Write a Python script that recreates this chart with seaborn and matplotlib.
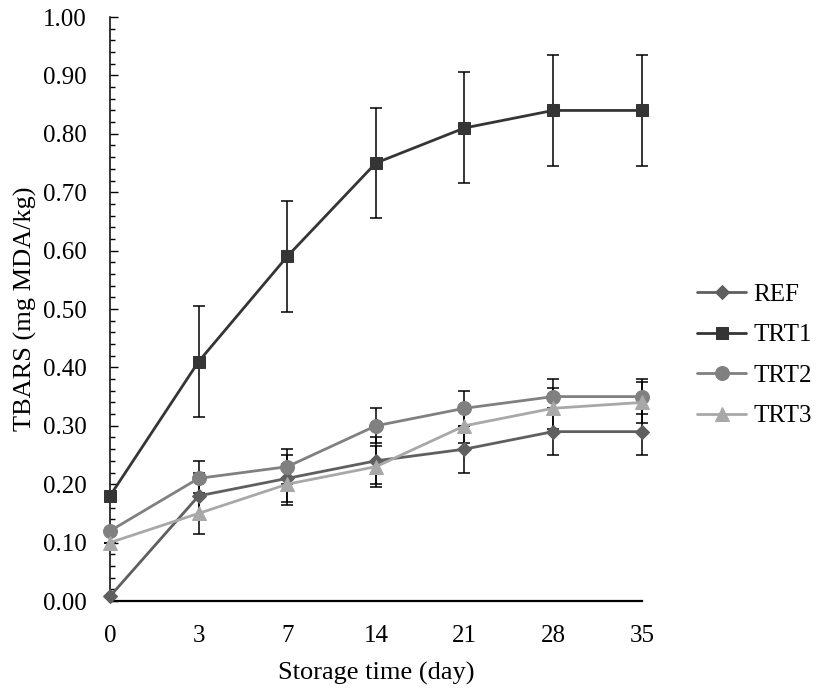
import matplotlib
matplotlib.use("Agg")
import matplotlib.pyplot as plt
import seaborn as sns
import pandas as pd
import numpy as np
from matplotlib.ticker import MultipleLocator, FormatStrFormatter

days = ["0", "3", "7", "14", "21", "28", "35"]
series = ["REF", "TRT1", "TRT2", "TRT3"]
ref = [0.008, 0.18, 0.21, 0.24, 0.26, 0.29, 0.29]
trt1 = [0.18, 0.41, 0.59, 0.75, 0.81, 0.84, 0.84]
trt2 = [0.12, 0.21, 0.23, 0.30, 0.33, 0.35, 0.35]
trt3 = [0.10, 0.15, 0.20, 0.23, 0.30, 0.33, 0.34]
ref_err = [0.0, 0.04, 0.04, 0.04, 0.04, 0.04, 0.04]
trt1_err = [0.0, 0.095, 0.095, 0.095, 0.095, 0.095, 0.095]
trt2_err = [0.0, 0.03, 0.03, 0.03, 0.03, 0.03, 0.03]
trt3_err = [0.0, 0.035, 0.035, 0.035, 0.03, 0.035, 0.035]

values = {"REF": ref, "TRT1": trt1, "TRT2": trt2, "TRT3": trt3}
errors = {"REF": ref_err, "TRT1": trt1_err, "TRT2": trt2_err, "TRT3": trt3_err}

rows = []
for s in series:
    for d, v, e in zip(days, values[s], errors[s]):
        rows.append({"day": d, "value": v, "err": e, "series": s})
df = pd.DataFrame(rows)

sns.set_theme(style="white")
plt.rcParams["font.family"] = ["Liberation Serif", "DejaVu Serif"]

colors = {"REF": "#5f5f5f", "TRT1": "#353535", "TRT2": "#808080", "TRT3": "#a8a8a8"}
markers = {"REF": "D", "TRT1": "s", "TRT2": "o", "TRT3": "^"}
msizes = {"REF": 7.5, "TRT1": 8.5, "TRT2": 10, "TRT3": 9.5}

fig = plt.figure(figsize=(8.27, 6.94), dpi=100)
ax = fig.add_axes([0.133, 0.134, 0.776 - 0.133, 0.9755 - 0.134])

for s in series:
    sub = df[df["series"] == s]
    eb = ax.errorbar(sub["day"], sub["value"], yerr=sub["err"], fmt="none",
                     ecolor="black", elinewidth=1.1, capsize=4.3, capthick=1.1, zorder=1)
    for art in eb.lines[1] + eb.lines[2]:
        art.set_clip_on(False)
    for c in eb.lines[2]:
        c.set_clip_on(False)

for s in series:
    sub = df[df["series"] == s]
    sns.lineplot(data=sub, x="day", y="value", ax=ax, color=colors[s],
                 marker=markers[s], markersize=msizes[s], markeredgecolor=colors[s],
                 linewidth=2.0, label=s, zorder=3, sort=False, clip_on=False)

ax.set_xlim(0, 6)
ax.set_ylim(0, 1.0)
ax.yaxis.set_major_locator(MultipleLocator(0.1))
ax.yaxis.set_minor_locator(MultipleLocator(0.02))
ax.yaxis.set_major_formatter(FormatStrFormatter("%.2f"))
ax.tick_params(axis="y", which="major", direction="in", length=6, width=1,
               color="black", labelsize=18, left=True, pad=17, labelcolor="black")
ax.tick_params(axis="y", which="minor", direction="in", length=3.8, width=1,
               color="black", left=True)
ax.tick_params(axis="x", which="both", length=0, labelsize=18, pad=17, labelcolor="black")

for sp in ["top", "right"]:
    ax.spines[sp].set_visible(False)
ax.spines["left"].set_color("black")
ax.spines["left"].set_linewidth(1.1)
ax.spines["bottom"].set_color("black")
ax.spines["bottom"].set_linewidth(1.6)

ax.set_xlabel("Storage time (day)", fontsize=19, labelpad=11, color="black")
ax.set_ylabel("TBARS (mg MDA/kg)", fontsize=19, labelpad=4, color="black")
ax.grid(False)

leg = ax.legend(loc="center left", bbox_to_anchor=(0.843, 0.488), bbox_transform=fig.transFigure,
                frameon=False, fontsize=18, handlelength=1.95, labelspacing=0.72,
                handletextpad=0.3, borderpad=0, borderaxespad=0)
for t in leg.get_texts():
    t.set_color("black")

fig.savefig("out.png", dpi=100)
